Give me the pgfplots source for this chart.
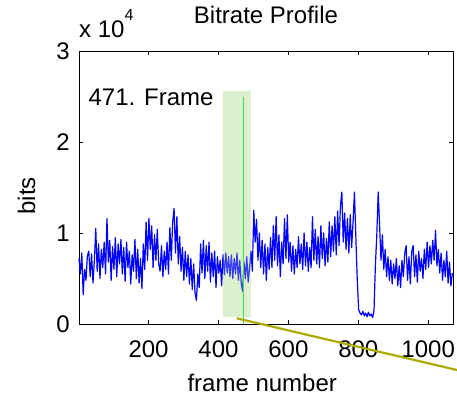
\documentclass[border=0pt]{standalone}
\usepackage{pgfplots}
\pgfplotsset{compat=1.18}
\usepackage{pgfplotstable}
\usepackage{fontspec}
\setmainfont{Liberation Sans}
\definecolor{patchgreen}{RGB}{220,240,206}
\definecolor{linegreen}{RGB}{60,230,60}
\definecolor{olivel}{RGB}{170,170,0}
\definecolor{sigblue}{RGB}{0,0,255}

\pgfplotstableread{
f b
1 7200
5 5500
9 7800
13 3200
17 6000
21 4800
25 7500
29 8000
33 5200
37 7700
41 4500
45 7000
49 10500
53 5800
57 8800
61 5000
65 8200
69 6200
73 9000
77 5500
81 11600
85 6800
89 9200
93 4800
97 8500
101 6000
105 9500
109 5200
113 8800
117 6600
121 9300
125 5500
129 8400
133 4700
137 9000
141 6200
145 8000
149 4400
153 7600
157 5800
161 9300
165 5000
169 8200
173 4500
177 7200
181 3900
185 8800
189 6000
193 11200
197 7000
201 11600
205 8200
209 10800
213 6200
217 9800
221 7000
225 10400
229 6600
233 5800
237 8600
241 5200
245 8000
249 6000
253 9000
257 5500
261 10600
265 7000
269 11200
273 12700
277 7800
281 11800
285 6600
289 9600
293 5800
297 8400
301 4800
305 8000
309 5200
313 7600
317 4400
321 7200
325 3800
329 6600
333 3400
337 2600
341 5500
345 4000
349 8800
353 5600
357 9200
361 5000
365 8600
369 5800
373 9000
377 4600
381 7800
385 5200
389 8000
393 4000
397 7400
401 5600
405 7000
409 4200
413 7600
417 5400
421 7800
425 5600
429 7400
433 5200
437 7600
441 5000
445 7200
449 5500
453 7800
457 4800
461 7000
465 4500
469 3600
473 6800
477 5000
481 7400
485 4600
489 6200
493 8000
497 5800
501 12500
505 9000
509 11500
513 7000
517 10000
521 6200
525 9200
529 5500
533 8800
537 4800
541 8400
545 6000
549 9500
553 6200
557 10800
561 7000
565 11800
569 6400
573 9800
577 5200
581 9000
585 6600
589 11600
593 7200
597 12000
601 6800
605 9000
609 5800
613 8600
617 5500
621 8200
625 6200
629 9600
633 6600
637 8800
641 6000
645 10000
649 6400
653 9000
657 5800
661 8400
665 6200
669 11800
673 7000
677 10400
681 6600
685 9600
689 6200
693 10800
697 7200
701 10000
705 6400
709 9400
713 6800
717 11200
721 7400
725 10800
729 8000
733 11800
737 7600
741 12400
745 8600
749 13000
753 14500
757 9000
761 12200
765 8200
769 11600
773 7800
777 12000
781 8400
785 11200
789 14500
793 9600
797 5000
801 1600
805 1200
809 1000
813 1400
817 900
821 1200
825 800
829 1300
833 900
837 1100
841 700
845 1500
849 6500
853 9800
857 14500
861 10800
865 7000
869 9800
873 6000
877 8200
881 5200
885 7400
889 4800
893 7000
897 4400
901 6600
905 5000
909 7200
913 4200
917 6400
921 4000
925 7000
929 5200
933 7800
937 8600
941 4800
945 7400
949 4400
953 8000
957 8600
961 5200
965 7600
969 4600
973 8000
977 5800
981 7200
985 5000
989 8200
993 6000
997 9000
1001 6200
1005 8600
1009 6600
1013 9200
1017 7000
1021 10300
1025 6400
1029 8200
1033 5600
1037 7800
1041 4800
1045 7000
1049 5200
1053 8000
1057 4500
1061 6800
1065 4200
1069 5600
}\bitrate

\begin{document}
\begin{tikzpicture}
\begin{axis}[name=ax,
  scale only axis, width=374pt, height=273pt,
  xmin=1, xmax=1071, ymin=0, ymax=30000,
  clip=false,
  font=\fontsize{24}{28}\selectfont,
  xtick={200,400,600,800,1000}, xticklabels={200,400,600,800,1000},
  ytick={0,10000,20000,30000}, yticklabels={0,1,2,3},
  scaled y ticks=false, scaled x ticks=false,
  /pgf/number format/assume math mode=true,
  tick align=inside, major tick length=4pt,
  tick style={black, line width=0.8pt},
  axis line style={black, line width=0.9pt},
  xticklabel style={inner sep=0pt, anchor=north},
  yticklabel style={inner sep=0pt, anchor=east},
  xticklabel shift=17pt, yticklabel shift=9pt,
  title={Bitrate Profile},
  title style={at={(axis description cs:0.5,1)}, anchor=base, yshift=21pt, inner sep=0pt},
  xlabel={frame number},
  xlabel style={at={(axis description cs:0.49,0)}, anchor=base, yshift=-67pt, inner sep=0pt},
  ylabel={bits},
  ylabel style={at={(axis description cs:-0.1176,0.47)}, anchor=base, inner sep=0pt},
]
\addplot[fill=patchgreen, draw=none] coordinates {(414,770) (494,770) (494,25600) (414,25600)} -- cycle;
\addplot[sigblue, line width=1.2pt, line join=round] table[x=f, y=b] {\bitrate};
\addplot[fill=patchgreen, fill opacity=0.25, draw=none] coordinates {(414,770) (494,770) (494,25600) (414,25600)} -- cycle;
\addplot[linegreen, line width=1.2pt] coordinates {(471,0) (471,25000)};
\addplot[olivel, line width=2.2pt, overlay] coordinates {(452,630) (1150,-5666)};
\node[anchor=base west, inner sep=0pt] at (axis cs:28,23960) {471. Frame};
\node[anchor=base west, inner sep=0pt, yshift=13pt] at (rel axis cs:0,1) {x 10\raisebox{17pt}{\fontsize{16}{18}\selectfont 4}};
\end{axis}
\pgfresetboundingbox
\path[use as bounding box] ([xshift=-79pt,yshift=-72pt]ax.south west) rectangle ([xshift=4pt,yshift=51pt]ax.north east);
\end{tikzpicture}
\end{document}
